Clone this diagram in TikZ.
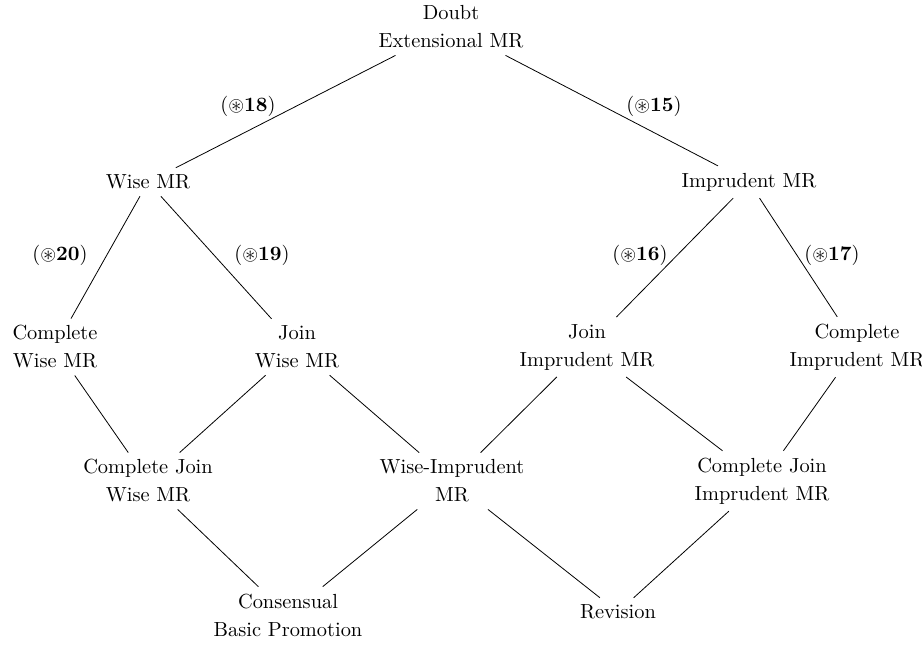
\documentclass[tikz,border=0pt]{standalone}
\usepackage{amsmath,amssymb}
\usepackage{tikz}

\tikzset{
  mr/.style={align=center, font=\fontsize{10.2}{14}\selectfont},
  rulelbl/.style={font=\fontsize{10.2}{14}\selectfont, inner sep=1pt}
}
\newcommand{\ruleno}[1]{(\(\circledast\)\textbf{#1})}

\begin{document}
\begin{tikzpicture}[x=0.5pt,y=-0.5pt]
    \useasboundingbox (0,0) rectangle (922,645);
    % lattice of the revision operators
    \node [mr] (doubt) at (451,27) {Doubt\\Extensional MR};
    \node [mr] (wise) at (148,182) {Wise MR};
    \node [mr] (impr) at (749,182) {Imprudent MR};
    \node [mr] (cwise) at (55,347) {Complete\\Wise MR};
    \node [mr] (jwise) at (297,347) {Join\\Wise MR};
    \node [mr] (jimpr) at (587,347) {Join\\Imprudent MR};
    \node [mr] (cimpr) at (857,347) {Complete\\Imprudent MR};
    \node [mr] (cjwise) at (148,481) {Complete Join\\Wise MR};
    \node [mr] (wiseimpr) at (452,481) {Wise-Imprudent\\MR};
    \node [mr] (cjimpr) at (762,481) {Complete Join\\Imprudent MR};
    \node [mr] (cbp) at (288,615) {Consensual\\Basic Promotion};
    \node [mr] (rev) at (618,612) {Revision};

    % rule labels
    \node [rulelbl] (r18) at (248,106) {\ruleno{18}};
    \node [rulelbl] (r15) at (654,106) {\ruleno{15}};
    \node [rulelbl] (r20) at (60,255) {\ruleno{20}};
    \node [rulelbl] (r19) at (262,255) {\ruleno{19}};
    \node [rulelbl] (r16) at (640,255) {\ruleno{16}};
    \node [rulelbl] (r17) at (832,255) {\ruleno{17}};

    \draw (doubt) -- (wise);
    \draw (doubt) -- (impr);
    \draw (wise) -- (cwise);
    \draw (wise) -- (jwise);
    \draw (impr) -- (jimpr);
    \draw (impr) -- (cimpr);
    \draw (cwise) -- (cjwise);
    \draw (jwise) -- (cjwise);
    \draw (jwise) -- (wiseimpr);
    \draw (jimpr) -- (wiseimpr);
    \draw (jimpr) -- (cjimpr);
    \draw (cimpr) -- (cjimpr);
    \draw (cjwise) -- (cbp);
    \draw (wiseimpr) -- (cbp);
    \draw (wiseimpr) -- (rev);
    \draw (cjimpr) -- (rev);
\end{tikzpicture}
\end{document}
